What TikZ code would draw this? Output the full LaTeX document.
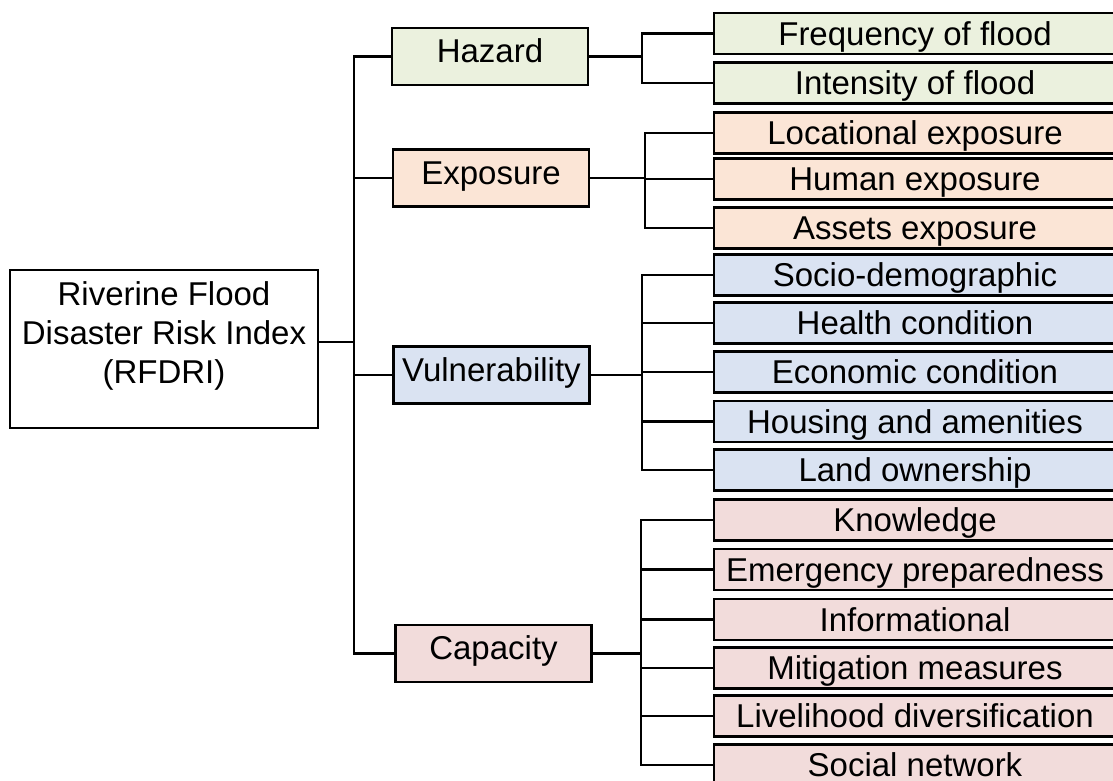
\documentclass[tikz,border=0pt]{standalone}
\usepackage{fontspec}
\setmainfont{Liberation Sans}
\definecolor{hazfill}{HTML}{EBF1DE}
\definecolor{expfill}{HTML}{FBE5D6}
\definecolor{vulfill}{HTML}{DAE3F2}
\definecolor{capfill}{HTML}{F2DCDB}
\begin{document}
\begin{tikzpicture}[x=1pt,y=-1pt]
\tikzstyle{every node}+=[inner sep=0pt, font=\fontsize{33}{39}\selectfont]
\tikzstyle{box}=[draw=black, line width=2.9pt]
\tikzstyle{rootbox}=[box, fill=white, minimum width=308pt, minimum height=158pt, align=center]
\tikzstyle{dimbox}=[box, minimum width=196pt, minimum height=57pt, text height=23.6pt, text depth=11pt]
\tikzstyle{leafbox}=[box, minimum width=402pt, minimum height=41pt, text height=23.6pt, text depth=0pt]
\tikzstyle{link}=[black, line width=2.7pt]
\useasboundingbox (0,0) rectangle (1113,780);
\node [rootbox] (root) at (164,349) {Riverine Flood\\Disaster Risk Index\\(RFDRI)\\[-6pt]\mbox{}};
\node [dimbox, fill=hazfill] (haz) at (490,56.5) {Hazard};
\node [dimbox, fill=expfill] (exp) at (491,178) {Exposure};
\node [dimbox, fill=vulfill] (vul) at (491.5,375) {Vulnerability};
\node [dimbox, fill=capfill] (cap) at (493.5,653.5) {Capacity};
\node [leafbox, fill=hazfill] (freq) at (915,33.5) {Frequency of flood};
\node [leafbox, fill=hazfill] (inten) at (915,83) {Intensity of flood};
\node [leafbox, fill=expfill] (locexp) at (915,133) {Locational exposure};
\node [leafbox, fill=expfill] (humexp) at (915,179) {Human exposure};
\node [leafbox, fill=expfill] (assexp) at (915,228) {Assets exposure};
\node [leafbox, fill=vulfill] (socio) at (915,275) {Socio-demographic};
\node [leafbox, fill=vulfill] (health) at (915,323) {Health condition};
\node [leafbox, fill=vulfill] (econ) at (915,372) {Economic condition};
\node [leafbox, fill=vulfill] (housing) at (915,421.5) {Housing and amenities};
\node [leafbox, fill=vulfill] (land) at (915,470) {Land ownership};
\node [leafbox, fill=capfill] (know) at (915,520) {Knowledge};
\node [leafbox, fill=capfill] (emerg) at (915,569.5) {Emergency preparedness};
\node [leafbox, fill=capfill] (inform) at (915,619.5) {Informational};
\node [leafbox, fill=capfill] (mitig) at (915,668) {Mitigation measures};
\node [leafbox, fill=capfill] (liveli) at (915,716) {Livelihood diversification};
\node [leafbox, fill=capfill] (social) at (915,765) {Social network};
\coordinate (trunk) at (354,0);
\coordinate (rootout) at ([yshift=7pt]root.east);
\draw [link] (rootout) -- (trunk |- rootout);
\draw [link] (haz.west) -| (trunk |- cap.west) -- (cap.west);
\draw [link] (trunk |- exp.west) -- (exp.west);
\draw [link] (trunk |- vul.west) -- (vul.west);
\coordinate (hazbus) at (642,0);
\draw [link] (haz.east) -- (hazbus |- haz.east);
\draw [link] (freq.west) -| (hazbus |- inten.west) -- (inten.west);
\coordinate (expbus) at (645,0);
\draw [link] (exp.east) -- (expbus |- exp.east);
\draw [link] (locexp.west) -| (expbus |- assexp.west) -- (assexp.west);
\draw [link] (expbus |- humexp.west) -- (humexp.west);
\coordinate (vulbus) at (642,0);
\draw [link] (vul.east) -- (vulbus |- vul.east);
\draw [link] (socio.west) -| (vulbus |- land.west) -- (land.west);
\draw [link] (vulbus |- health.west) -- (health.west);
\draw [link] (vulbus |- econ.west) -- (econ.west);
\draw [link] (vulbus |- housing.west) -- (housing.west);
\coordinate (capbus) at (641,0);
\draw [link] (cap.east) -- (capbus |- cap.east);
\draw [link] (know.west) -| (capbus |- social.west) -- (social.west);
\draw [link] (capbus |- emerg.west) -- (emerg.west);
\draw [link] (capbus |- inform.west) -- (inform.west);
\draw [link] (capbus |- mitig.west) -- (mitig.west);
\draw [link] (capbus |- liveli.west) -- (liveli.west);
\end{tikzpicture}
\end{document}
